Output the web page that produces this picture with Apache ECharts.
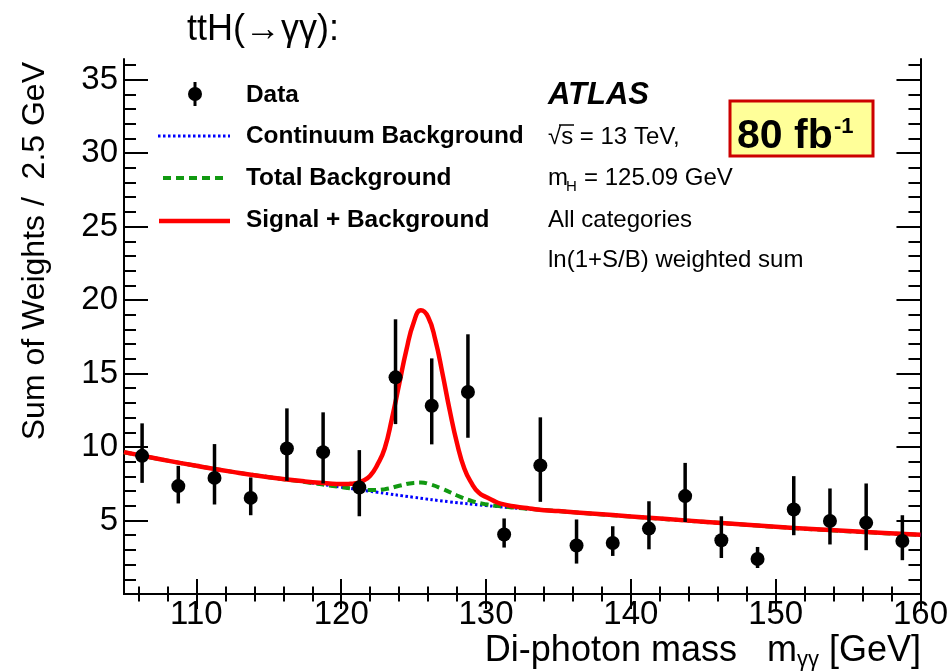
<!DOCTYPE html>
<html><head><meta charset="utf-8">
<script src="https://cdn.jsdelivr.net/npm/echarts@6/dist/echarts.min.js"></script>
<style>html,body{margin:0;padding:0;background:#fff}#c{width:951px;height:672px}</style>
</head><body><div id="c"></div>
<script>
// ---- data ----
const massBins = [106.25,108.75,111.25,113.75,116.25,118.75,121.25,123.75,126.25,128.75,131.25,133.75,136.25,138.75,141.25,143.75,146.25,148.75,151.25,153.75,156.25,158.75];
const dataValues = [9.40,7.34,7.90,6.54,9.90,9.65,7.25,14.74,12.81,13.74,4.05,8.75,3.30,3.47,4.45,6.66,3.66,2.38,5.75,4.97,4.84,3.61];
const errUp   = [2.21,1.38,2.30,1.39,2.73,2.71,2.54,3.95,3.22,3.93,1.09,3.27,1.77,1.14,1.86,2.26,1.63,0.82,2.27,2.21,2.68,1.75];
const errDown = [1.84,1.18,1.81,1.18,2.20,2.13,1.96,3.18,2.63,3.11,0.89,2.48,1.23,0.88,1.41,1.76,1.21,0.61,1.75,1.60,1.86,1.31];

const contMass   = [105,107.5,110,112.5,115,117.5,120,122.5,125,127.5,130,132.5,135,137.5,140,142.5,145,147.5,150,152.5,155,157.5,160];
const contValues = [9.65,9.17,8.72,8.31,7.95,7.62,7.27,6.92,6.58,6.27,6.02,5.81,5.63,5.45,5.27,5.09,4.91,4.74,4.57,4.41,4.27,4.14,4.02];

const totalMass   = [105,107.5,110,112.5,115,117.5,120,121,122,123,124,125,125.5,126,127,128,129,130,131,132.5,135,137.5,140,142.5,145,147.5,150,152.5,155,157.5,160];
const totalValues = [9.65,9.17,8.72,8.31,7.95,7.62,7.27,7.15,7.07,7.13,7.36,7.56,7.58,7.50,7.15,6.70,6.33,6.10,5.97,5.83,5.64,5.45,5.27,5.09,4.91,4.74,4.57,4.41,4.27,4.14,4.02];

const sbMass   = [105,107.5,110,112.5,115,117.5,119,120,120.5,121,121.5,122,122.5,123,123.5,124,124.5,125,125.5,126,126.5,127,127.5,128,128.5,129,129.5,130,130.5,131,132,133,134,135,137.5,140,142.5,145,147.5,150,152.5,155,157.5,160];
const sbValues = [9.65,9.17,8.72,8.31,7.95,7.66,7.54,7.48,7.49,7.54,7.70,8.05,8.80,9.90,11.93,14.26,16.60,18.46,19.30,18.84,17.28,14.96,12.46,10.24,8.54,7.54,6.89,6.60,6.35,6.15,5.95,5.82,5.70,5.64,5.46,5.28,5.10,4.92,4.75,4.58,4.42,4.28,4.15,4.03];

const xMajor = [110,120,130,140,150,160];
const xMinor = [106,108,112,114,116,118,122,124,126,128,132,134,136,138,142,144,146,148,152,154,156,158];
const yMajor = [5,10,15,20,25,30,35];
const yMinor = [1,2,3,4,6,7,8,9,11,12,13,14,16,17,18,19,21,22,23,24,26,27,28,29,31,32,33,34,36];

const X_MIN = 105, X_MAX = 160, Y_MIN = 0, Y_MAX = 36.4;

// ---- chart ----
const FONT = '"Liberation Sans", Arial, Helvetica, sans-serif';
const chart = echarts.init(document.getElementById('c'));

function xAx(pos, ticks, len, withLine, withLabels) {
  return {
    type: 'value', position: pos, min: X_MIN, max: X_MAX, gridIndex: 0,
    axisLine: { show: withLine, lineStyle: { color: '#000', width: 2 } },
    axisTick: { show: true, inside: true, length: len, customValues: ticks, lineStyle: { color: '#000', width: 2 } },
    axisLabel: { show: withLabels, customValues: ticks, fontSize: 33, color: '#000', fontFamily: FONT, margin: 4 },
    splitLine: { show: false }
  };
}
function yAx(pos, ticks, len, withLine, withLabels) {
  return {
    type: 'value', position: pos, min: Y_MIN, max: Y_MAX, gridIndex: 0,
    axisLine: { show: withLine, lineStyle: { color: '#000', width: 2 } },
    axisTick: { show: true, inside: true, length: len, customValues: ticks, lineStyle: { color: '#000', width: 2 } },
    axisLabel: { show: withLabels, customValues: ticks, fontSize: 33, color: '#000', fontFamily: FONT, margin: 6 },
    splitLine: { show: false }
  };
}

const legendText = (txt, y) => ({ type: 'text', x: 246, y: y, z: 100,
  style: { text: txt, font: 'bold 24.4px ' + FONT, fill: '#000', textVerticalAlign: 'middle', textAlign: 'left' } });
const infoText = (txt, x, y, size, weight) => ({ type: 'text', x: x, y: y, z: 100,
  style: { text: txt, font: (weight || '') + ' ' + size + 'px ' + FONT, fill: '#000', textVerticalAlign: 'middle', textAlign: 'left' } });

const option = {
  animation: false,
  backgroundColor: '#fff',
  grid: { left: 124, right: 30, top: 59, bottom: 78, containLabel: false },
  xAxis: [
    xAx('bottom', xMajor, 15, true, true),
    xAx('bottom', xMinor, 7.5, false, false),
    xAx('top', xMajor, 15, true, false),
    xAx('top', xMinor, 7.5, false, false)
  ],
  yAxis: [
    yAx('left', yMajor, 24, true, true),
    yAx('left', yMinor, 12, false, false),
    yAx('right', yMajor, 24, true, false),
    yAx('right', yMinor, 12, false, false)
  ],
  series: [
    { name: 'Continuum Background', type: 'line', xAxisIndex: 0, yAxisIndex: 0, symbol: 'none', smooth: 0.5,
      data: contMass.map((m, i) => [m, contValues[i]]),
      lineStyle: { color: '#0000ff', width: 3, type: [2.5, 2.5] }, z: 2 },
    { name: 'Total Background', type: 'line', xAxisIndex: 0, yAxisIndex: 0, symbol: 'none', smooth: 0.5,
      data: totalMass.map((m, i) => [m, totalValues[i]]),
      lineStyle: { color: '#119911', width: 4, type: [8, 5] }, z: 3 },
    { name: 'Signal + Background', type: 'line', xAxisIndex: 0, yAxisIndex: 0, symbol: 'none', smooth: 0.5,
      data: sbMass.map((m, i) => [m, sbValues[i]]),
      lineStyle: { color: '#ff0000', width: 4.5, join: 'round' }, z: 4 },
    { name: 'Data errors', type: 'custom', xAxisIndex: 0, yAxisIndex: 0, z: 5,
      data: massBins.map((m, i) => [m, dataValues[i] - errDown[i], dataValues[i] + errUp[i]]),
      encode: { x: 0, y: [1, 2] },
      renderItem: (params, api) => {
        const p1 = api.coord([api.value(0), api.value(1)]);
        const p2 = api.coord([api.value(0), api.value(2)]);
        return { type: 'line', shape: { x1: p1[0], y1: p1[1], x2: p2[0], y2: p2[1] }, style: { stroke: '#000', lineWidth: 3.5 } };
      } },
    { name: 'Data', type: 'scatter', xAxisIndex: 0, yAxisIndex: 0, z: 6, symbol: 'circle', symbolSize: 14,
      data: massBins.map((m, i) => [m, dataValues[i]]),
      itemStyle: { color: '#000', opacity: 1 } }
  ],
  graphic: [
    // title
    { type: 'text', x: 187, y: 30, z: 100, style: { text: 'ttH(\u2192\u03b3\u03b3):', font: '36px ' + FONT, fill: '#000', textVerticalAlign: 'middle' } },
    // legend
    { type: 'line', z: 100, shape: { x1: 195, y1: 82, x2: 195, y2: 106 }, style: { stroke: '#000', lineWidth: 3 } },
    { type: 'circle', z: 100, shape: { cx: 195, cy: 94, r: 7 }, style: { fill: '#000' } },
    { type: 'line', z: 100, shape: { x1: 158, y1: 136, x2: 230, y2: 136 }, style: { stroke: '#0000ff', lineWidth: 3, lineDash: [2.5, 2.5] } },
    { type: 'line', z: 100, shape: { x1: 163, y1: 178, x2: 224, y2: 178 }, style: { stroke: '#119911', lineWidth: 4, lineDash: [8, 5] } },
    { type: 'line', z: 100, shape: { x1: 159, y1: 221, x2: 230, y2: 221 }, style: { stroke: '#ff0000', lineWidth: 4.5 } },
    legendText('Data', 95),
    legendText('Continuum Background', 136),
    legendText('Total Background', 178),
    legendText('Signal + Background', 220),
    // right-hand labels
    { type: 'text', x: 548, y: 95, z: 100, style: { text: 'ATLAS', font: 'italic bold 31px ' + FONT, fill: '#000', textVerticalAlign: 'middle' } },
    infoText('\u221as = 13 TeV,', 548, 137, 24),
    { type: 'line', z: 100, shape: { x1: 559, y1: 125, x2: 574, y2: 125 }, style: { stroke: '#000', lineWidth: 1.5 } },
    infoText('m', 548, 178, 24),
    infoText('H', 566, 187, 15),
    infoText('= 125.09 GeV', 584, 178, 24),
    infoText('All categories', 548, 220, 24),
    infoText('ln(1+S/B) weighted sum', 548, 260, 24),
    // luminosity box
    { type: 'rect', z: 110, shape: { x: 730, y: 101, width: 143, height: 55 }, style: { fill: '#ffff99', stroke: '#cc0000', lineWidth: 3 } },
    { type: 'text', x: 737, y: 137, z: 111, style: { text: '80 fb', font: 'bold 41px ' + FONT, fill: '#000', textVerticalAlign: 'middle' } },
    { type: 'text', x: 834, y: 127, z: 111, style: { text: '-1', font: 'bold 22px ' + FONT, fill: '#000', textVerticalAlign: 'middle' } },
    // axis titles
    { type: 'text', x: 35, y: 62, rotation: Math.PI / 2, z: 100,
      style: { text: 'Sum of Weights /  2.5 GeV', font: '32px ' + FONT, fill: '#000', textAlign: 'right', textVerticalAlign: 'middle' } },
    { type: 'text', x: 921, y: 651, z: 100,
      style: { text: '{t|Di-photon mass   m}{s|\u03b3\u03b3}{t| [GeV]}', fill: '#000', textAlign: 'right', textVerticalAlign: 'middle',
        rich: { t: { font: '36px ' + FONT, fill: '#000', lineHeight: 40 }, s: { font: '22px ' + FONT, fill: '#000', verticalAlign: 'bottom', lineHeight: 40 } } } }
  ]
};
chart.setOption(option);
</script>
</body></html>
